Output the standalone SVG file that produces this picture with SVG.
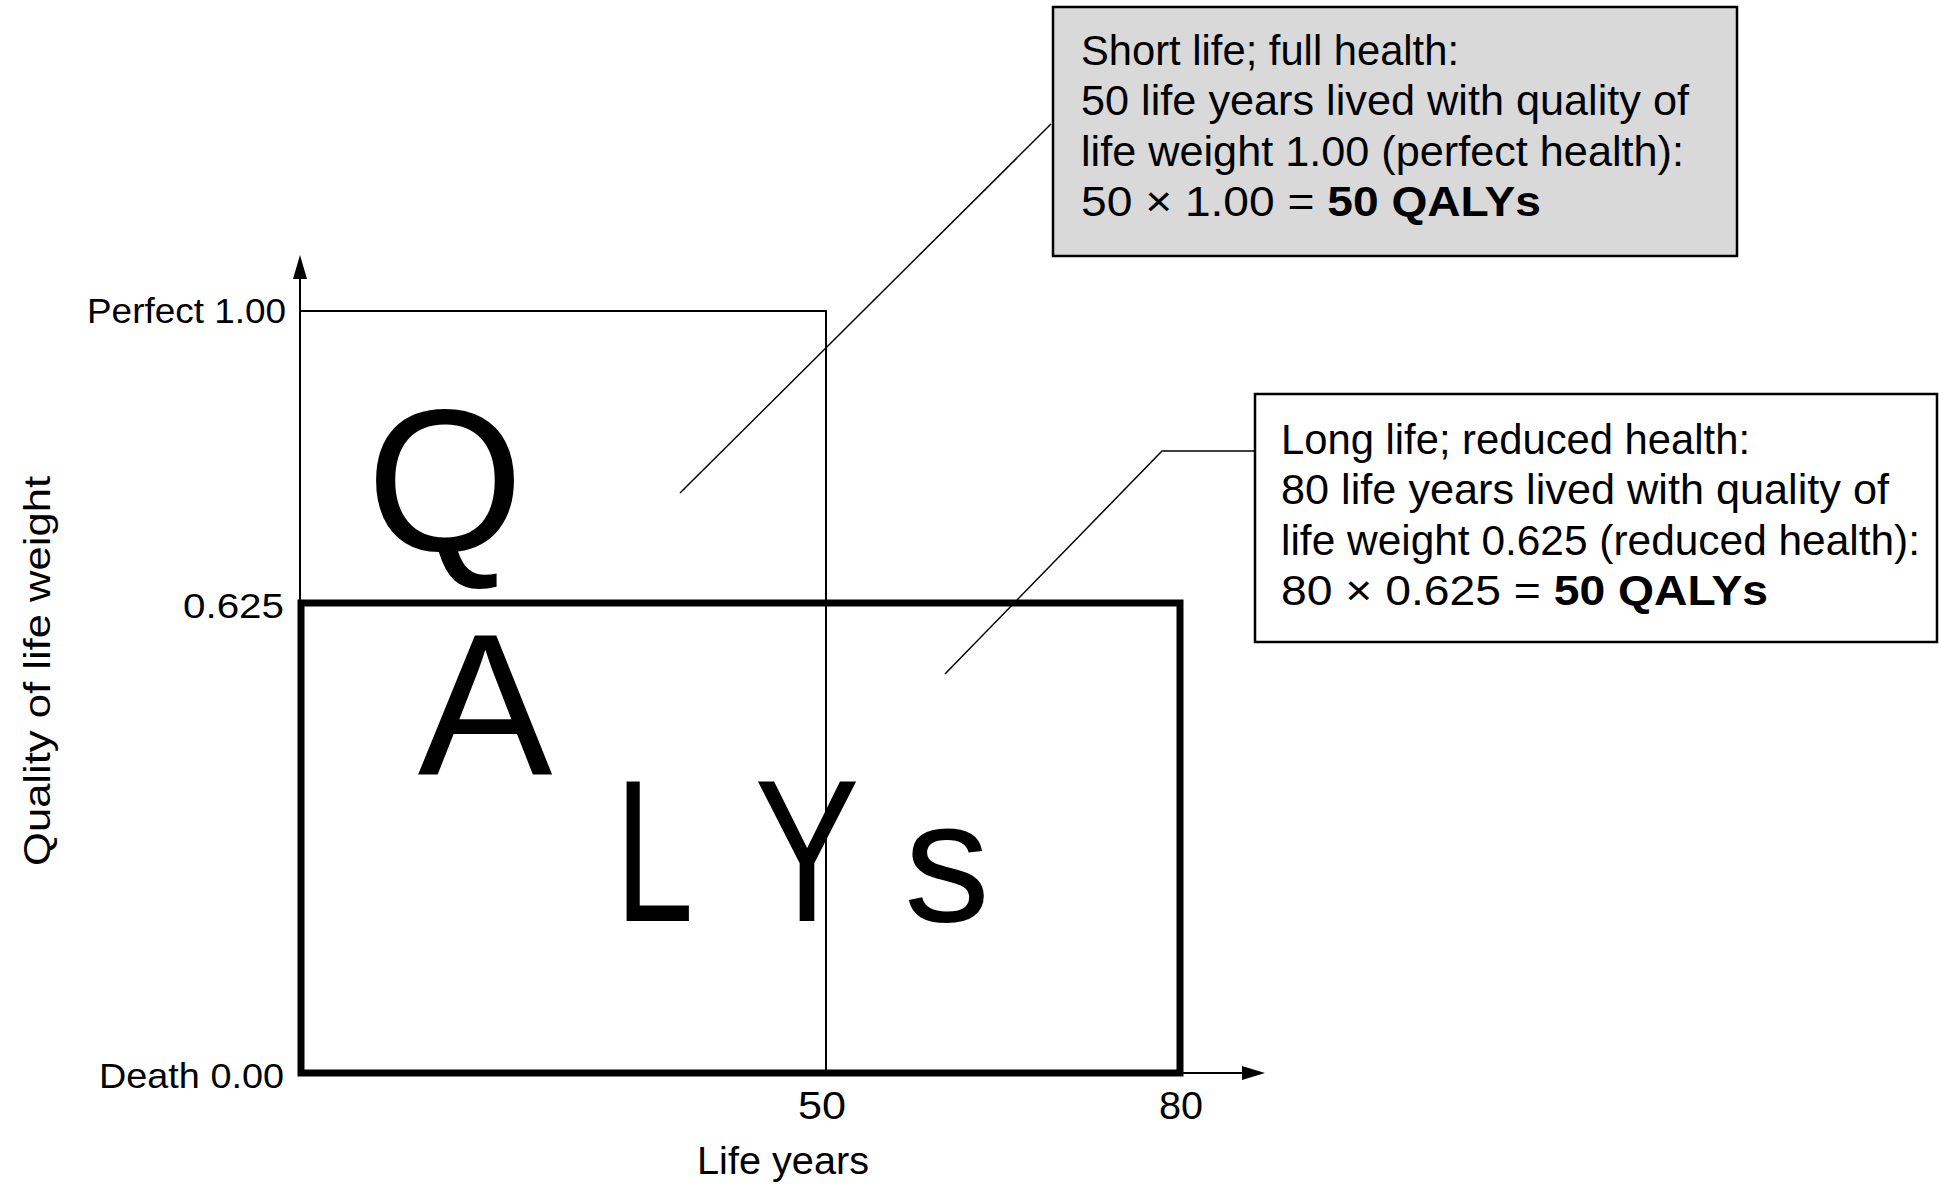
<svg xmlns="http://www.w3.org/2000/svg" width="1939" height="1195" viewBox="0 0 1939 1195">
<defs>
<style>
.t{font-family:"Liberation Sans",Arial,sans-serif;fill:#000}
.box{font-size:42px}
.ax{font-size:35px}
.big{font-size:202px}
.thin{stroke:#000;stroke-width:2;fill:none}
.thick{stroke:#000;stroke-width:7;fill:none}
.lead{stroke:#000;stroke-width:1.5;fill:none}
</style>
</defs>
<rect width="1939" height="1195" fill="#fff"/>

<g id="connectors">
<line class="thin" x1="300" y1="1073" x2="300" y2="262"/>
<polygon points="300,255 293,279 307,279" fill="#000"/>
<line class="thin" x1="300" y1="1073" x2="1245" y2="1073"/>
<polygon points="1265,1073 1242,1066 1242,1080" fill="#000"/>
<polyline class="thin" points="300,311 826,311 826,1073"/>
<rect id="long-life-rect" class="thick" x="301" y="603" width="879" height="470"/>
<line class="lead" x1="680" y1="493" x2="1051" y2="124"/>
<polyline class="lead" points="945,674 1162,451 1254,451"/>
</g>

<g id="y-axis-labels">
<text class="t ax" x="286" y="323" text-anchor="end" textLength="199" lengthAdjust="spacingAndGlyphs">Perfect 1.00</text>
<text class="t ax" x="284" y="618" text-anchor="end" textLength="101" lengthAdjust="spacingAndGlyphs">0.625</text>
<text class="t ax" x="284" y="1088" text-anchor="end" textLength="185" lengthAdjust="spacingAndGlyphs">Death 0.00</text>
<text class="t" font-size="37" transform="translate(50,866) rotate(-90)" textLength="390" lengthAdjust="spacingAndGlyphs">Quality of life weight</text>
</g>

<g id="x-axis-labels">
<text class="t" font-size="38" x="822" y="1119" text-anchor="middle" textLength="48" lengthAdjust="spacingAndGlyphs">50</text>
<text class="t" font-size="38" x="1181" y="1119" text-anchor="middle" textLength="44" lengthAdjust="spacingAndGlyphs">80</text>
<text class="t" font-size="38" x="697" y="1174" textLength="172" lengthAdjust="spacingAndGlyphs">Life years</text>
</g>

<g id="qalys-letters">
<text class="t big" x="445" y="551" text-anchor="middle">Q</text>
<text class="t big" x="485" y="775" text-anchor="middle">A</text>
<text class="t big" transform="translate(615,921) scale(0.7,1)" x="0" y="0">L</text>
<text class="t big" transform="translate(807,921) scale(0.78,1)" x="0" y="0" text-anchor="middle">Y</text>
<text class="t" font-size="172" x="947" y="921" text-anchor="middle">s</text>
</g>

<g id="short-life-box">
<rect x="1053" y="7" width="684" height="249" fill="#d9d9d9" stroke="#000" stroke-width="2.5"/>
<text class="t box" x="1081" y="65" textLength="378" lengthAdjust="spacingAndGlyphs">Short life; full health:</text>
<text class="t box" x="1081" y="115" textLength="608" lengthAdjust="spacingAndGlyphs">50 life years lived with quality of</text>
<text class="t box" x="1081" y="166" textLength="603" lengthAdjust="spacingAndGlyphs">life weight 1.00 (perfect health):</text>
<text class="t box" x="1081" y="216" textLength="460" lengthAdjust="spacingAndGlyphs">50 × 1.00 = <tspan font-weight="bold">50 QALYs</tspan></text>
</g>

<g id="long-life-box">
<rect x="1255" y="394" width="682" height="248" fill="#fff" stroke="#000" stroke-width="2.5"/>
<text class="t box" x="1281" y="454" textLength="469" lengthAdjust="spacingAndGlyphs">Long life; reduced health:</text>
<text class="t box" x="1281" y="504" textLength="608" lengthAdjust="spacingAndGlyphs">80 life years lived with quality of</text>
<text class="t box" x="1281" y="555" textLength="639" lengthAdjust="spacingAndGlyphs">life weight 0.625 (reduced health):</text>
<text class="t box" x="1281" y="605" textLength="487" lengthAdjust="spacingAndGlyphs">80 × 0.625 = <tspan font-weight="bold">50 QALYs</tspan></text>
</g>
</svg>
